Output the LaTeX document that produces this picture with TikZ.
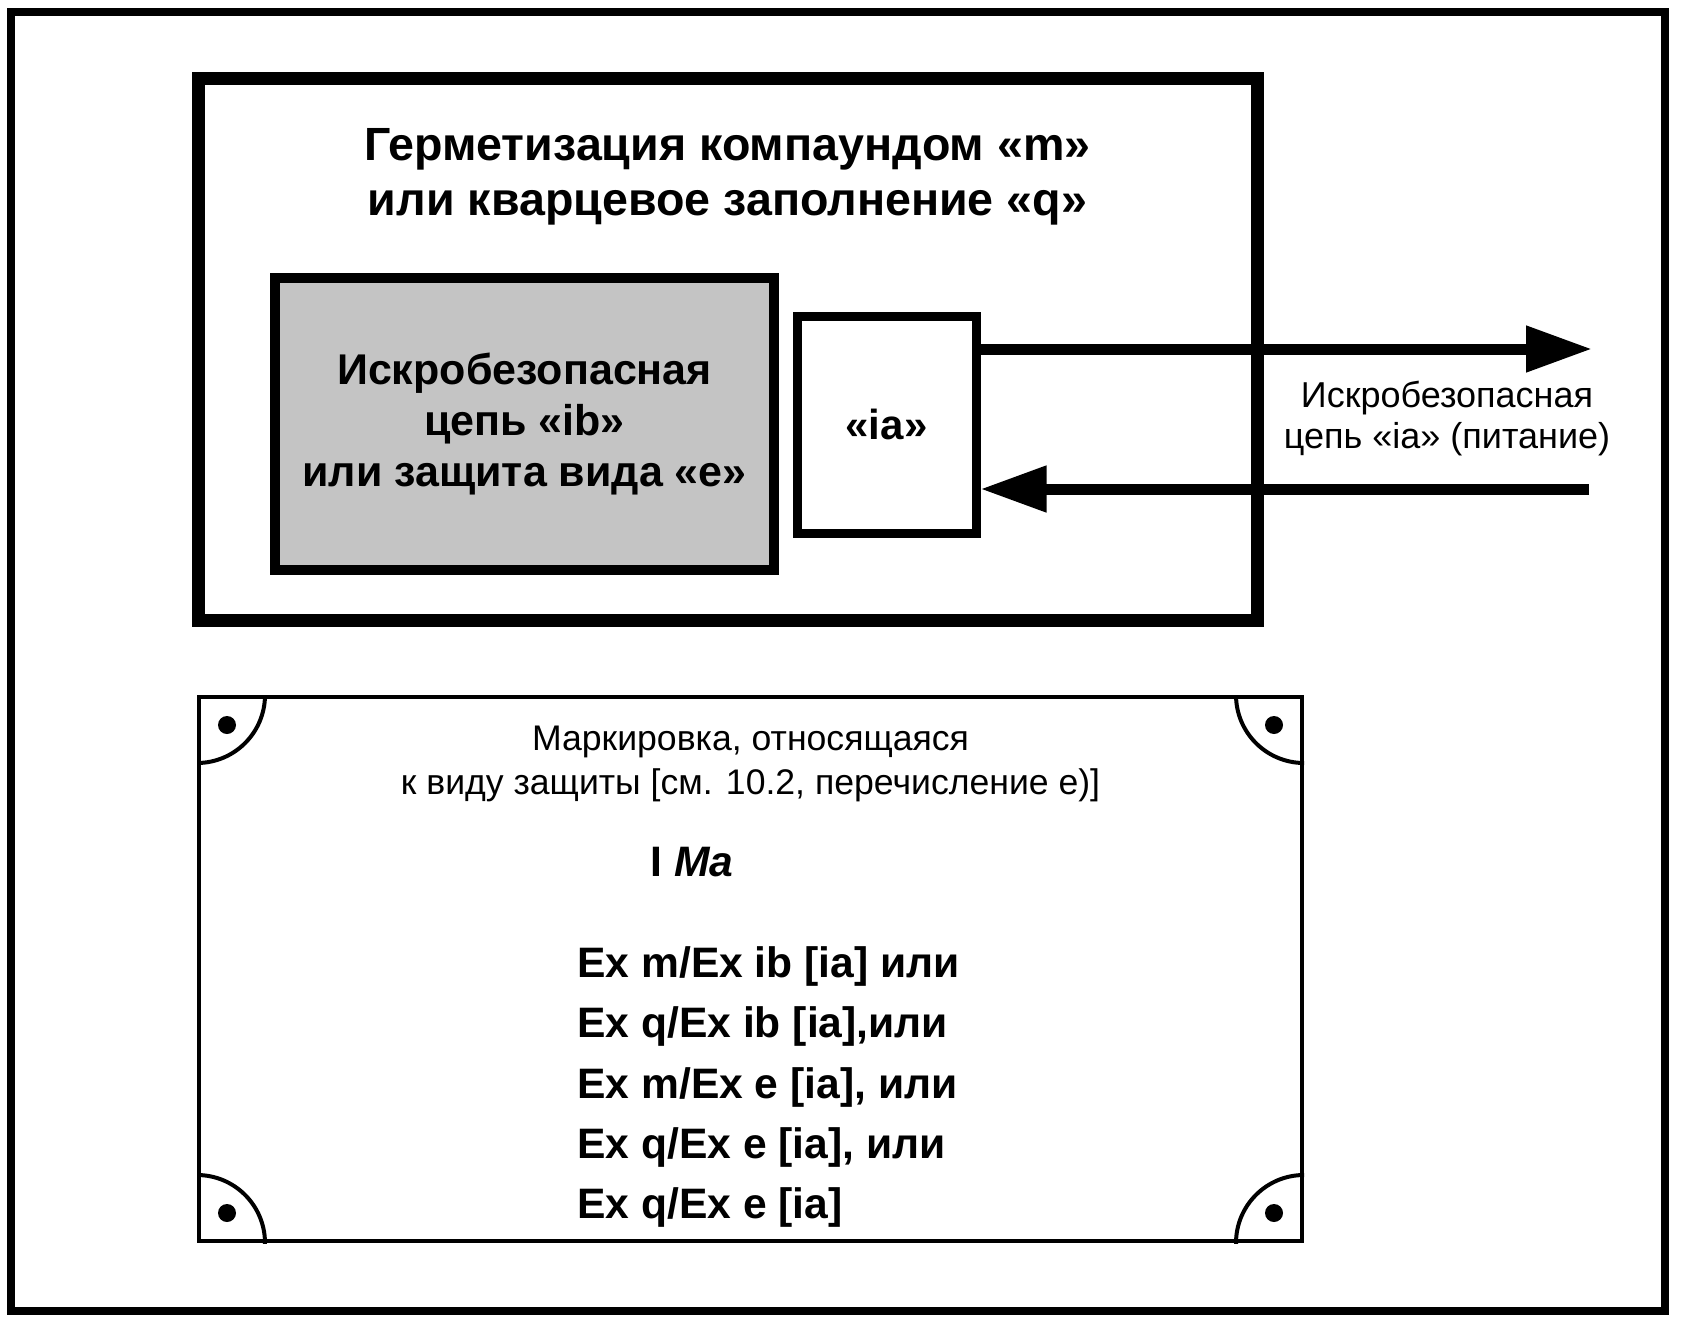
\documentclass[tikz,border=0pt]{standalone}
\usepackage{fontspec}
\setmainfont{Liberation Sans}
\usetikzlibrary{arrows.meta,positioning,calc}

\begin{document}
\begin{tikzpicture}[
  x=0.5pt, y=-0.5pt,
  framebox/.style={draw, line width=4pt},
  potbox/.style={
    draw, line width=6.5pt, minimum width=529.5pt, minimum height=270.5pt
  },
  ibbox/.style={
    draw, line width=5pt, fill=black!23,
    minimum width=249.5pt, minimum height=146pt,
    align=center, font=\fontsize{21.5}{25.5}\selectfont\bfseries
  },
  iabox/.style={
    draw, line width=4.5pt, fill=white,
    minimum width=89.5pt, minimum height=108.5pt,
    font=\fontsize{21}{25}\selectfont\bfseries
  },
  platebox/.style={
    draw, line width=2pt, minimum width=551.5pt, minimum height=272pt
  },
  headlabel/.style={
    align=center, font=\fontsize{23.3}{27.5}\selectfont\bfseries
  },
  sidelabel/.style={
    align=center, font=\fontsize{18}{20.5}\selectfont
  },
  notelabel/.style={
    align=center, font=\fontsize{17.8}{22}\selectfont
  },
  marklabel/.style={
    anchor=base west, inner sep=0pt, font=\fontsize{21.3}{25}\selectfont\bfseries
  },
  wirearrow/.style={
    line width=5.5pt, -{Triangle[length=33pt, width=22pt]}
  }
]

\useasboundingbox (0,0) rectangle (1681,1327);

% Outer frame
\draw[framebox] (11,12) rectangle (1665,1311);

% ===== Encapsulation / powder filling =====
\node[potbox] (pot) at (727.5,349.5) {};
\node[headlabel] (pottitle) at (727.5,177)
  {Герметизация компаундом «m»\\или кварцевое заполнение «q»};

% ===== ib circuit =====
\node[ibbox] (ib) at (524.5,424)
  {Искробезопасная\\цепь «ib»\\или защита вида «e»};

% ===== ia circuit =====
\node[iabox] (ia) at (886.5,424.5) {«ia»};

% Supply lines
\coordinate (outA) at (1592,349);
\coordinate (inB) at (1589,489);
\draw[wirearrow] (ia.east |- outA) -- (outA);
\draw[wirearrow] (inB) -- (ia.east |- inB);
\node[sidelabel] (supply) at (1447,419)
  {Искробезопасная\\цепь «ia» (питание)};

% ===== Marking plate =====
\node[platebox] (plate) at (750.5,969) {};
\begin{scope}
  \clip (plate.north west) rectangle (plate.south east);
  \foreach \c in {north west, north east, south west, south east}
    \draw[line width=2pt] (plate.\c) circle[radius=34pt];
\end{scope}
\foreach \c/\dx/\dy in {north west/30/30, north east/-30/30,
                        south west/30/-30, south east/-30/-30}
  \fill ($(plate.\c)+(\dx,\dy)$) circle[radius=4.5pt];

\node[notelabel] (platenote) at (750.5,764)
  {Маркировка, относящаяся\\к виду защиты [см. 10.2, перечисление е)]};

\node[marklabel] (group) at (650,876) {I \textit{Ma}};

\node[marklabel] (mark1) at (577,977) {Ex m/Ex ib [ia] или};
\node[marklabel] (mark2) at (577,1037) {Ex q/Ex ib [ia],или};
\node[marklabel] (mark3) at (577,1098) {Ex m/Ex e [ia], или};
\node[marklabel] (mark4) at (577,1158) {Ex q/Ex e [ia], или};
\node[marklabel] (mark5) at (577,1218) {Ex q/Ex e [ia]};

\end{tikzpicture}
\end{document}
